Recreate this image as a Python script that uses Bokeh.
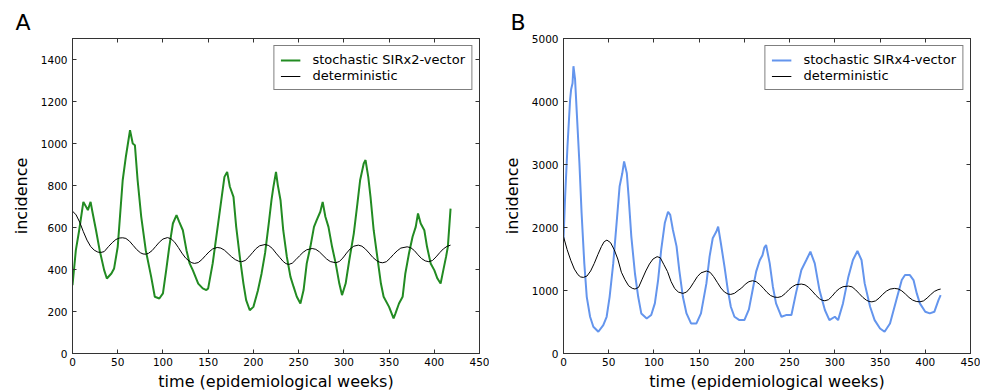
from bokeh.plotting import figure
from bokeh.models import Range1d, FixedTicker, LinearAxis, Legend, LegendItem
from bokeh.layouts import row
from bokeh.embed import file_html
from bokeh.resources import INLINE

# ---------------- data ----------------
x_ticks = [0, 50, 100, 150, 200, 250, 300, 350, 400, 450]
a_y_ticks = [0, 200, 400, 600, 800, 1000, 1200, 1400]
b_y_ticks = [0, 1000, 2000, 3000, 4000, 5000]

a_stoch_weeks = [0, 3.7, 7.4, 12, 17, 20, 22, 26, 30, 35,
                 38, 43, 46, 50, 55.5, 59, 63.6, 66.6, 69, 72,
                 76, 81, 87, 91, 96, 100, 103.6, 107, 111, 115,
                 118, 122, 126, 129.5, 133, 139, 144, 148, 150, 155,
                 161, 165, 168, 171, 174, 178, 181, 185, 189, 192,
                 196, 200, 205, 209, 213, 217, 220, 222, 225, 227,
                 230, 233, 237, 241, 244.5, 248, 252, 255.5, 259, 263,
                 267, 270, 274, 276.6, 279.6, 283, 287, 291, 295, 298,
                 302, 306, 311, 315, 318, 322, 324, 327, 329.5, 333,
                 337, 341, 344, 350, 355, 357, 361, 365, 368, 372,
                 376, 379.5, 382, 385, 389, 392, 396, 400, 403.5, 407,
                 410, 413, 415, 418]
a_stoch_vals = [325, 492, 587, 722, 683, 722, 675, 587, 492, 397,
                357, 381, 405, 508, 825, 937, 1063, 1000, 992, 825,
                651, 492, 365, 270, 262, 286, 397, 508, 619, 659,
                627, 587, 492, 429, 397, 333, 310, 302, 310, 429,
                619, 746, 841, 865, 794, 746, 603, 460, 333, 254,
                206, 222, 300, 380, 480, 620, 730, 790, 865, 802,
                730, 587, 460, 365, 317, 270, 238, 302, 429, 508,
                603, 635, 675, 722, 651, 603, 508, 429, 333, 278,
                333, 444, 571, 714, 825, 905, 921, 841, 746, 587,
                460, 333, 270, 222, 167, 190, 238, 270, 381, 476,
                556, 603, 667, 619, 587, 508, 429, 397, 357, 333,
                397, 460, 508, 690]

a_det_weeks = [0, 4, 8, 12, 16, 20, 24, 28, 31, 35, 40, 44, 48, 52, 55.5,
               59, 63, 67, 71, 75, 78, 81, 84, 88, 92, 96, 100, 105,
               109, 113, 117, 121, 125, 129, 132, 135, 139, 143, 147, 151, 155, 160,
               164, 168, 172, 176, 180, 184, 187, 191, 195, 199, 203, 207, 213,
               217, 221, 225, 229, 233, 236, 239, 243, 247, 251, 255, 259, 265,
               269, 273, 277, 281, 285, 291, 295, 299, 303, 307, 311, 316,
               320, 324, 328, 332, 336, 340, 343, 347, 351, 355, 359, 363, 370,
               374, 378, 382, 386, 390, 394, 398, 402, 406, 410, 414, 418]
a_det_vals = [678, 660, 625, 580, 540, 510, 492, 483, 481, 485, 510, 528, 543, 550, 551,
              548, 535, 515, 495, 480, 474, 473, 477, 490, 510, 530, 545, 552,
              546, 530, 505, 478, 455, 440, 432, 429, 433, 447, 466, 484, 498, 505,
              502, 492, 476, 460, 447, 439, 437, 443, 460, 480, 500, 513, 519,
              514, 500, 478, 458, 438, 428, 424, 430, 447, 465, 482, 494, 500,
              496, 484, 467, 450, 438, 432, 438, 455, 478, 498, 511, 516,
              511, 497, 478, 458, 443, 434, 432, 437, 453, 472, 489, 502, 508,
              504, 490, 470, 452, 441, 437, 443, 460, 480, 498, 510, 516]

b_stoch_weeks = [0, 1.8, 4.4, 7.3, 8.4, 10, 11, 12.8, 14.7, 17.6,
                 20, 23, 25.7, 29.4, 33, 38.5, 44, 47.7, 51, 55,
                 58.7, 62, 65, 67, 70, 72, 75, 79, 82.6, 86,
                 92, 97, 101, 104.6, 108, 112, 115.6, 118, 121, 125,
                 128, 132, 136, 141, 147, 152, 158, 161.5, 165, 169,
                 171, 174, 178, 181.7, 185, 189, 194.5, 200, 205, 209,
                 213, 217, 220, 222, 224, 228, 231.5, 235, 241, 246,
                 252, 257, 263, 268.5, 273, 277.8, 283, 289, 294, 300,
                 303.6, 309, 315, 320, 325, 329.5, 333, 339, 344, 350,
                 355, 361, 368, 374, 377.6, 383, 387, 390.6, 394, 400,
                 405, 410, 414.6, 417]
b_stoch_vals = [1800, 2490, 3290, 4030, 4190, 4290, 4560, 4350, 3820, 3020,
                2230, 1430, 900, 583, 424, 345, 450, 583, 900, 1430,
                2070, 2650, 2860, 3050, 2860, 2490, 1855, 1270, 900, 636,
                556, 610, 795, 1166, 1643, 2070, 2250, 2200, 1960, 1700,
                1325, 900, 636, 477, 477, 636, 1113, 1537, 1830, 1935,
                2014, 1750, 1380, 1007, 742, 583, 530, 530, 700, 1000,
                1300, 1480, 1560, 1680, 1722, 1430, 1060, 795, 583, 610,
                610, 954, 1325, 1484, 1616, 1430, 1007, 690, 530, 583,
                530, 795, 1220, 1484, 1627, 1484, 1113, 742, 530, 397,
                345, 477, 848, 1166, 1245, 1245, 1166, 954, 795, 662,
                636, 662, 848, 927]

b_det_weeks = [0, 4, 8, 12, 16, 19, 22, 26, 30, 34, 38, 42, 45, 48,
               52, 56, 60, 64, 68, 72, 76, 79, 83, 87, 91, 95, 99, 103.5,
               107, 111, 115, 119, 123, 127, 132, 136, 140, 144, 148, 152, 158,
               162, 166, 170, 174, 178, 182, 185, 189, 193, 197, 201, 205, 209,
               213, 217, 221, 225, 229, 233, 237, 241, 245, 249, 253, 257, 263,
               267, 271, 275, 279, 283, 286, 289, 293, 297, 301, 305, 309, 315,
               319, 323, 327, 331, 335, 338, 341, 345, 349, 353, 357, 361, 366,
               370, 374, 378, 382, 386, 390, 394, 398, 402, 406, 410, 414, 417]
b_det_vals = [1855, 1650, 1480, 1340, 1250, 1215, 1208, 1230, 1310, 1430, 1570, 1700, 1775, 1800,
              1760, 1650, 1500, 1290, 1170, 1075, 1035, 1023, 1050, 1180, 1310, 1420, 1500, 1537,
              1520, 1410, 1300, 1140, 1030, 975, 954, 975, 1040, 1130, 1220, 1280, 1309,
              1290, 1220, 1130, 1040, 975, 943, 938, 955, 1000, 1040, 1100, 1140, 1155,
              1140, 1095, 1035, 970, 920, 896, 890, 905, 950, 1010, 1060, 1092, 1102,
              1090, 1050, 990, 925, 870, 845, 837, 855, 910, 980, 1030, 1060, 1070,
              1058, 1010, 950, 890, 845, 826, 820, 835, 880, 940, 990, 1022, 1033,
              1025, 995, 945, 890, 848, 826, 820, 835, 880, 935, 985, 1012, 1023]

assert len(a_stoch_weeks) == len(a_stoch_vals)
assert len(a_det_weeks) == len(a_det_vals)
assert len(b_stoch_weeks) == len(b_stoch_vals)
assert len(b_det_weeks) == len(b_det_vals)

FONT = "DejaVu Sans"
FRAME_COLOR = "#333333"


def make_panel(letter, letter_dx, ymax, yticks, sw, sv, dw, dv, color, label,
               border_left, border_right):
    p = figure(frame_width=407, frame_height=315,
               x_range=Range1d(0, 450), y_range=Range1d(0, ymax),
               output_backend="svg", toolbar_location=None,
               min_border_left=border_left, min_border_right=border_right,
               min_border_top=38, min_border_bottom=38,
               x_axis_label="time (epidemiological weeks)", y_axis_label="incidence")
    p.grid.visible = False
    p.outline_line_color = FRAME_COLOR
    p.background_fill_color = "white"
    p.border_fill_color = "white"

    # panel letter as a left-aligned title pulled out to the left of the frame
    p.title.text = letter
    p.title.align = "left"
    p.title.offset = letter_dx
    p.title.text_font = FONT
    p.title.text_font_size = "22px"
    p.title.text_font_style = "normal"
    p.title.text_color = "black"
    p.title.standoff = 8

    p.xaxis.ticker = FixedTicker(ticks=x_ticks)
    p.yaxis.ticker = FixedTicker(ticks=yticks)
    for ax in (p.xaxis[0], p.yaxis[0]):
        ax.axis_line_color = FRAME_COLOR
        ax.major_tick_line_color = FRAME_COLOR
        ax.major_tick_in = 4
        ax.major_tick_out = 0
        ax.minor_tick_line_color = None
        ax.major_label_text_font = FONT
        ax.major_label_text_font_size = "10.5px"
        ax.major_label_text_color = "black"
        ax.axis_label_text_font = FONT
        ax.axis_label_text_font_size = "16px"
        ax.axis_label_text_font_style = "normal"
        ax.axis_label_text_color = "black"
    p.xaxis[0].major_label_standoff = 4
    p.xaxis[0].axis_label_standoff = 3
    p.yaxis[0].major_label_standoff = 5
    p.yaxis[0].axis_label_standoff = 7

    # mirrored tick marks on top and right (matplotlib classic style)
    for side, tk in (("above", x_ticks), ("right", yticks)):
        ax = LinearAxis(ticker=FixedTicker(ticks=tk))
        ax.axis_line_color = FRAME_COLOR
        ax.major_tick_line_color = FRAME_COLOR
        ax.major_tick_in = 4
        ax.major_tick_out = 0
        ax.minor_tick_line_color = None
        ax.major_label_text_color = None
        ax.major_label_text_font_size = "0px"
        ax.major_label_standoff = 0
        p.add_layout(ax, side)

    r1 = p.line(sw, sv, line_color=color, line_width=2)
    r2 = p.line(dw, dv, line_color="black", line_width=1)

    legend = Legend(items=[LegendItem(label=label, renderers=[r1]),
                           LegendItem(label="deterministic", renderers=[r2])],
                    location="top_right")
    legend.margin = 7
    legend.padding = 6
    legend.spacing = 1
    legend.glyph_width = 20
    legend.glyph_height = 14
    legend.label_height = 14
    legend.label_standoff = 12
    legend.label_text_font = FONT
    legend.label_text_font_size = "13px"
    legend.label_text_color = "black"
    legend.border_line_color = "black"
    legend.border_line_width = 1
    legend.background_fill_color = "white"
    legend.background_fill_alpha = 1
    p.add_layout(legend)
    return p


pa = make_panel("A", -57, 1500, a_y_ticks, a_stoch_weeks, a_stoch_vals,
                a_det_weeks, a_det_vals, "#228B22", "stochastic SIRx2-vector", 72, 10)
pb = make_panel("B", -53, 5000, b_y_ticks, b_stoch_weeks, b_stoch_vals,
                b_det_weeks, b_det_vals, "#6495ED", "stochastic SIRx4-vector", 74, 10)

layout = row(pa, pb)
open("out.html", "w").write(file_html(layout, INLINE))
